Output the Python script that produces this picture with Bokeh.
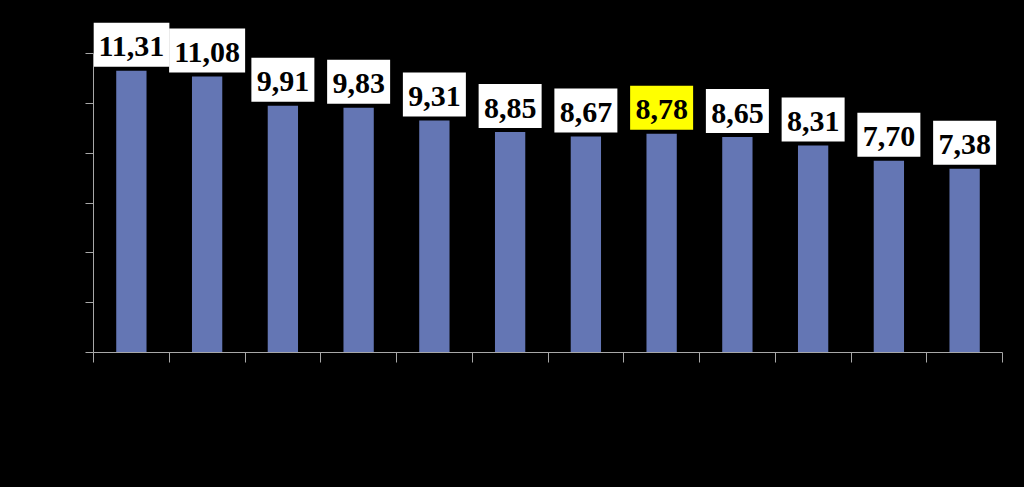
from bokeh.plotting import figure
from bokeh.models import ColumnDataSource, FixedTicker, Range1d
from bokeh.core.properties import value
from bokeh.embed import file_html
from bokeh.resources import INLINE

positions = [1, 2, 3, 4, 5, 6, 7, 8, 9, 10, 11, 12]
values = [11.31, 11.08, 9.91, 9.83, 9.31, 8.85, 8.67, 8.78, 8.65, 8.31, 7.70, 7.38]
labels = ["11,31", "11,08", "9,91", "9,83", "9,31", "8,85", "8,67", "8,78", "8,65", "8,31", "7,70", "7,38"]
label_fill = ["white"] * 7 + ["#FFFF00"] + ["white"] * 4
y_ticks = [0, 2, 4, 6, 8, 10, 12]
x_ticks = [0.5, 1.5, 2.5, 3.5, 4.5, 5.5, 6.5, 7.5, 8.5, 9.5, 10.5, 11.5, 12.5]

# layout (pixels)
W, H = 1024, 487
B_LEFT, B_RIGHT, B_TOP, B_BOTTOM = 93, 22, 10, 135
Y_END = 13.73
px_per_unit = (H - B_TOP - B_BOTTOM) / Y_END
box_h = 44
box_gap = 4
box_offset = (box_gap + box_h / 2) / px_per_unit

src = ColumnDataSource(dict(
    x=positions, top=values, label=labels, fill=label_fill,
    ybox=[v + box_offset for v in values],
    wbox=[13 * len(s) + 11 for s in labels],
))

p = figure(width=W, height=H, output_backend="svg", toolbar_location=None,
           x_range=Range1d(0.5, 12.5), y_range=Range1d(0, Y_END),
           min_border_left=B_LEFT, min_border_right=B_RIGHT,
           min_border_top=B_TOP, min_border_bottom=B_BOTTOM)
p.styles = {"background-color": "black"}
p.background_fill_color = "black"
p.border_fill_color = "black"
p.outline_line_color = None
p.xgrid.visible = False
p.ygrid.visible = False

p.vbar(x="x", top="top", width=0.4, bottom=0, source=src, fill_color="#6476B4", line_color=None)

p.rect(x="x", y="ybox", width="wbox", height=box_h, width_units="screen", height_units="screen",
       source=src, fill_color="fill", line_color=None)
p.text(x="x", y="ybox", text="label", source=src, text_align="center", text_baseline="middle",
       y_offset=2, text_font=value("Liberation Serif"), text_font_style="bold",
       text_font_size="30px", text_color="black")

for ax in (p.xaxis[0], p.yaxis[0]):
    ax.axis_line_color = "#A8A8A8"
    ax.major_tick_line_color = "#A8A8A8"
    ax.minor_tick_line_color = None
    ax.major_tick_in = 0
    ax.major_label_text_color = "black"
    ax.major_label_text_font_size = "12px"

p.yaxis[0].ticker = FixedTicker(ticks=y_ticks)
p.yaxis[0].bounds = (0, 12)
p.yaxis[0].major_tick_out = 8
p.xaxis[0].ticker = FixedTicker(ticks=x_ticks)
p.xaxis[0].major_label_overrides = {t: "" for t in x_ticks}
p.xaxis[0].major_tick_out = 10

open("out.html", "w").write(file_html(p, INLINE))
